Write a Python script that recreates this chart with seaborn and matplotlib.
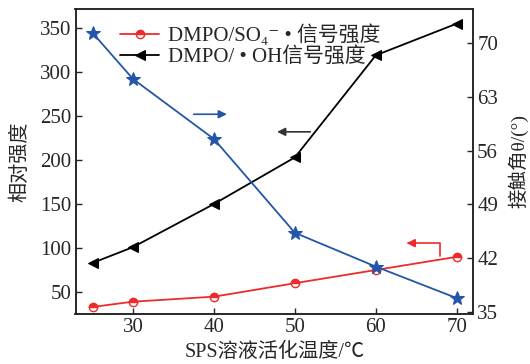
import matplotlib
matplotlib.use("Agg")
import matplotlib.pyplot as plt
import seaborn as sns
import pandas as pd

temps = [25, 30, 40, 50, 60, 70]
so4_signal = [33, 39, 44.7, 60, 75, 90]
oh_signal = [83, 101, 150, 203, 319, 355]
contact_angle = [71.3, 65.3, 57.5, 45.3, 40.9, 36.8]

left_ticks = [50, 100, 150, 200, 250, 300, 350]
right_ticks = [35, 42, 49, 56, 63, 70]
x_ticks = [30, 40, 50, 60, 70]

sns.set_theme(style="ticks")
plt.rcParams['font.family'] = ['Liberation Serif', 'Noto Sans CJK SC', 'DejaVu Sans']

RED = '#ee2a2a'
BLUE = '#2356a8'
BLACK = '#000000'

df = pd.DataFrame({'T': temps, 'so4': so4_signal, 'oh': oh_signal, 'ca': contact_angle})

fig = plt.figure(figsize=(5.3, 3.64), dpi=100)
ax = fig.add_axes([75.5/530, 1-314/364, (473-75.5)/530, (314-9)/364])
ax2 = ax.twinx()

sns.lineplot(data=df, x='T', y='so4', ax=ax, color=RED, marker='o', markersize=6,
             fillstyle='top', markerfacecoloralt='white', markeredgecolor=RED,
             markeredgewidth=1.0, linewidth=1.3, label='DMPO/SO\u2084\u207b • 信号强度')
sns.lineplot(data=df, x='T', y='oh', ax=ax, color=BLACK, marker='<', markersize=7,
             markeredgecolor=BLACK, linewidth=1.3, label='DMPO/ • OH信号强度')
sns.lineplot(data=df, x='T', y='ca', ax=ax2, color=BLUE, marker='*', markersize=10,
             markeredgecolor=BLUE, linewidth=1.3, legend=False)

ax.set_xlim(22.9, 72)
ax.set_ylim(25, 371.6)
ax2.set_ylim(34.74, 74.4)
ax.set_xticks(x_ticks)
ax.set_yticks(left_ticks)
ax2.set_yticks(right_ticks)

ax.set_xlabel('SPS溶液活化温度/℃', fontsize=14.5, labelpad=4)
ax.set_ylabel('相对强度', fontsize=14.5, labelpad=7)
ax2.set_ylabel('接触角θ/(°)', fontsize=14, labelpad=7)

for a in (ax, ax2):
    a.tick_params(direction='in', length=4, width=1, labelsize=15, pad=3)
    for s in a.spines.values():
        s.set_linewidth(1.1)
        s.set_color('#222222')

leg = ax.legend(loc='upper left', bbox_to_anchor=(0.08, 0.99), frameon=False,
                fontsize=15, handlelength=1.9, handletextpad=0.4, labelspacing=0.05,
                borderaxespad=0.2)

# annotation arrows
ap = dict(arrowstyle='-|>', mutation_scale=12, linewidth=1.2, shrinkA=0, shrinkB=0)
ax.annotate('', xy=(41.6, 252), xytext=(37.5, 252), arrowprops=dict(color=BLUE, **ap))
ax.annotate('', xy=(47.8, 232), xytext=(51.9, 232), arrowprops=dict(color='#333333', **ap))
ax.annotate('', xy=(63.8, 105.5), xytext=(67.9, 91),
            arrowprops=dict(color=RED, connectionstyle='angle,angleA=90,angleB=0,rad=0', **ap))

fig.savefig('out.png', dpi=100)
